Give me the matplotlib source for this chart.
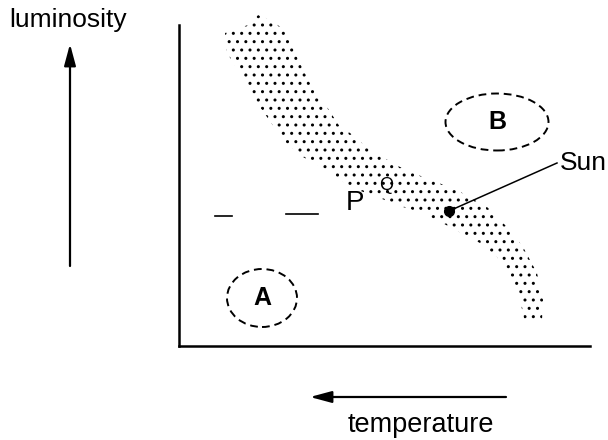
import matplotlib
matplotlib.use("Agg")
import matplotlib.pyplot as plt
from matplotlib.patches import Ellipse

plt.rcParams['font.family'] = ['Liberation Sans', 'DejaVu Sans']
plt.rcParams['hatch.linewidth'] = 1.0
plt.rcParams['hatch.color'] = 'black'

# star band outline (temperature axis runs right->left, arbitrary units)
band_top_x = [46, 69, 79, 91, 106, 118, 131, 148, 161, 171, 191, 221, 244, 278, 308, 331, 344, 358, 364, 363]
band_top_y = [313, 321, 331, 326, 316, 289, 263, 239, 219, 213, 196, 179, 169, 156, 139, 116, 99, 73, 46, 26]
band_bot_x = [346, 341, 331, 318, 301, 271, 244, 224, 198, 171, 148, 124, 104, 88, 71, 61, 48]
band_bot_y = [23, 46, 69, 89, 103, 119, 133, 139, 149, 159, 176, 189, 206, 229, 253, 273, 293]

sun_x, sun_y = 270, 135
sun_label_xy = (381, 183)

# regions A and B: centre, width, height
regions = ["A", "B"]
region_cx = [83, 318]
region_cy = [48, 224]
region_w = [70, 103]
region_h = [58, 57]

# pencil marks
dash_x = [[36, 53], [107, 139]]
dash_y = [[130, 130], [132, 132]]
marks = ["P", "Q"]
mark_x = [176, 207]
mark_y = [143, 161]
mark_size = [20, 13]

fig = plt.figure(figsize=(6.08, 4.40), dpi=100)

# overlay for the labels/arrows outside the plot (pixel coords)
bg = fig.add_axes([0, 0, 1, 1])
bg.set_xlim(0, 608)
bg.set_ylim(440, 0)
bg.axis('off')
head = "-|>,head_length=1.3,head_width=0.35"
bg.annotate("", xy=(70, 44), xytext=(70, 266),
            arrowprops=dict(arrowstyle=head, color='black', lw=1.6, shrinkA=0, shrinkB=0))
bg.annotate("", xy=(310, 397), xytext=(506, 397),
            arrowprops=dict(arrowstyle=head, color='black', lw=1.6, shrinkA=0, shrinkB=0))
bg.text(9, 20, "luminosity", fontsize=19, ha='left', va='center')
bg.text(421, 425, "temperature", fontsize=19.5, ha='center', va='center')

ax = fig.add_axes([179/608, 1-346/440, 411/608, 321/440])
ax.set_xlim(0, 411)
ax.set_ylim(0, 321)
ax.set_facecolor('none')
for s in ['top', 'right']:
    ax.spines[s].set_visible(False)
for s in ['left', 'bottom']:
    ax.spines[s].set_linewidth(1.8)
ax.set_xticks([])
ax.set_yticks([])

# dotted band of stars
outline_x = band_top_x + band_bot_x
outline_y = band_top_y + band_bot_y
ax.fill(outline_x, outline_y, facecolor='none', edgecolor='black', linewidth=0,
        hatch='..', clip_on=False)

# the Sun
ax.plot([sun_x, sun_label_xy[0] - 3], [sun_y, sun_label_xy[1]], color='black', lw=1.1)
ax.plot(sun_x, sun_y, 'o', color='black', markersize=7)
ax.text(sun_label_xy[0], sun_label_xy[1], "Sun", fontsize=19, ha='left', va='center', clip_on=False)

for name, cx, cy, w, h in zip(regions, region_cx, region_cy, region_w, region_h):
    ax.add_patch(Ellipse((cx, cy), w, h, fill=False, linestyle=(0, (4, 2.5)), lw=1.4, color='black'))
    ax.text(cx, cy, name, fontsize=18, fontweight='bold', ha='center', va='center')

for xs, ys in zip(dash_x, dash_y):
    ax.plot(xs, ys, color='black', lw=1.2)
for m, mx, my, ms in zip(marks, mark_x, mark_y, mark_size):
    ax.text(mx, my, m, fontsize=ms, ha='center', va='center')

fig.savefig("out.png", dpi=100)
